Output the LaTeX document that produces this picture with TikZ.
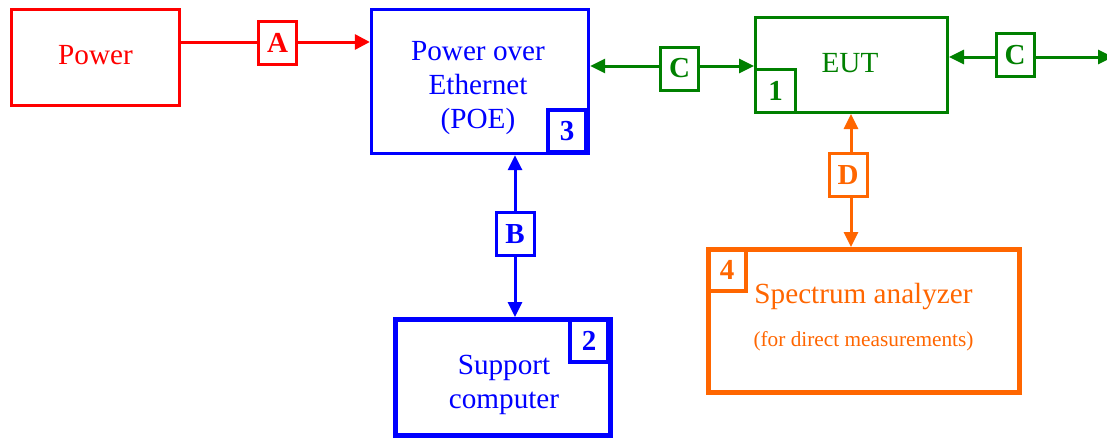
\documentclass[tikz,border=0pt]{standalone}
\usepackage{fontspec}
\setmainfont{Liberation Serif}
\usetikzlibrary{arrows.meta}
\definecolor{cred}{RGB}{255,0,0}
\definecolor{cblue}{RGB}{0,0,255}
\definecolor{cgreen}{RGB}{0,128,0}
\definecolor{corange}{RGB}{255,102,0}
\tikzset{
  col/.style={draw=#1, text=#1},
  box/.style={draw, rectangle, fill=white, inner sep=0pt, line width=3pt},
  lbl/.style={draw, rectangle, fill=white, inner sep=0pt, line width=3pt,
    minimum width=38pt, minimum height=43pt, font=\fontsize{29}{34}\selectfont\bfseries},
  num/.style={draw, rectangle, inner sep=0pt, line width=4pt,
    minimum width=38pt, minimum height=42pt, font=\fontsize{29}{34}\selectfont\bfseries},
  txt/.style={inner sep=0pt, align=center, font=\fontsize{29.2}{34}\selectfont},
  small/.style={inner sep=0pt, align=center, font=\fontsize{21.3}{25}\selectfont},
  conn/.style={line width=3pt},
  tip/.style={-{Triangle[length=15pt,width=15pt]}},
  tips/.style={{Triangle[length=15pt,width=14pt]}-{Triangle[length=15pt,width=14pt]}}
}
\begin{document}
\begin{tikzpicture}[x=1pt,y=-1pt]
\useasboundingbox (0,0) rectangle (1107,439);
\clip (0,0) rectangle (1107,439);
\fill[white] (0,0) rectangle (1107,439);
% boxes
\node[box, col=cred, minimum width=168pt, minimum height=96pt] (pw) at (95.5,57.5) {};
\node[txt, text=cred] (pwt) at (95.5,55) {Power};
\node[box, col=cblue, line width=3.3pt, minimum width=217pt, minimum height=144pt] (poe) at (480,81.5) {};
\node[txt, text=cblue] (poet) at (478,88) {Power over\\Ethernet\\(POE)};
\node[num, col=cblue] (n3) at (567,131) {3};
\node[box, col=cgreen, minimum width=192pt, minimum height=95pt] (eut) at (851.5,65) {};
\node[txt, text=cgreen] (eutt) at (850,63) {EUT};
\node[num, col=cgreen, line width=3pt, minimum width=40pt, minimum height=43pt] (n1) at (775.5,91) {1};
\node[box, col=corange, line width=5pt, minimum width=311pt, minimum height=143pt] (sa) at (864,321) {};
\node[txt, text=corange] (sat) at (863.5,297) {Spectrum analyzer};
\node[small, text=corange] (sat2) at (863.5,341) {(for direct measurements)};
\node[num, col=corange] (n4) at (727,270) {4};
\node[box, col=cblue, line width=5pt, minimum width=215pt, minimum height=116pt] (sc) at (503,377.5) {};
\node[txt, text=cblue] (sct) at (504,385) {Support\\computer};
\node[num, col=cblue] (n2) at (589,341) {2};
% connectors
\coordinate (Apos) at (277.5,42);
\coordinate (C1pos) at (679.5,66);
\coordinate (C2pos) at (1015,57);
\coordinate (Dpos) at (851,175);
\coordinate (Bpos) at (515,234);
\coordinate (rend) at (1113,57);
\draw[conn, cred, tip] (Apos -| pw.east) -- (Apos -| poe.west);
\draw[conn, cgreen, tips] (C1pos -| poe.east) -- (C1pos -| eut.west);
\draw[conn, cgreen, tips] (C2pos -| eut.east) -- (rend);
\draw[conn, corange, tips] (Dpos |- eut.south) -- (Dpos |- sa.north);
\draw[conn, cblue, tips] (Bpos |- poe.south) -- (Bpos |- sc.north);
% labels
\node[lbl, col=cred] (A) at (277.5,42.5) {A};
\node[lbl, col=cgreen] (C1) at (679.5,68.5) {C};
\node[lbl, col=cgreen] (C2) at (1015,55) {C};
\node[lbl, col=corange] (D) at (848,175) {D};
\node[lbl, col=cblue] (B) at (515,234) {B};
\end{tikzpicture}
\end{document}
